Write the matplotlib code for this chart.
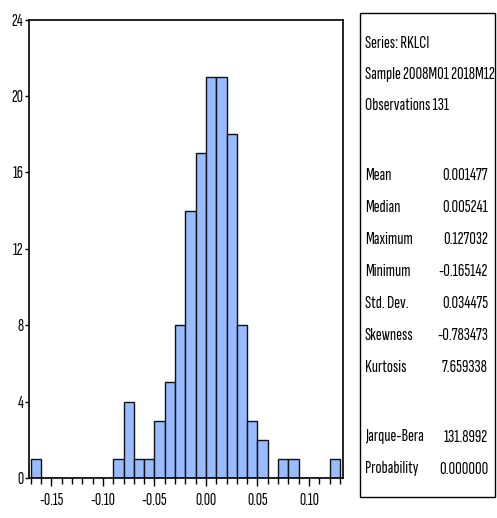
import numpy as np
import matplotlib
matplotlib.use("Agg")
import matplotlib.pyplot as plt
from matplotlib.patches import Rectangle

plt.rcParams['font.family'] = ['Sofia Sans Extra Condensed', 'DejaVu Sans']

# histogram of RKLCI, bins of width 0.01 from -0.17 to 0.13
bin_edges = np.round(np.arange(-0.17, 0.1301, 0.01), 2)
counts = [1, 0, 0, 0, 0, 0, 0, 0, 1, 4, 1, 1, 3, 5, 8, 14, 17, 21, 21, 18,
          8, 3, 2, 0, 1, 1, 0, 0, 0, 1]

xticks = [-0.15, -0.10, -0.05, 0.00, 0.05, 0.10]
yticks = [0, 4, 8, 12, 16, 20, 24]

header = ["Series: RKLCI", "Sample 2008M01 2018M12", "Observations 131"]
stat_names = ["Mean", "Median", "Maximum", "Minimum", "Std. Dev.", "Skewness", "Kurtosis"]
stat_values = ["0.001477", "0.005241", "0.127032", "-0.165142", "0.034475", "-0.783473", "7.659338"]
test_names = ["Jarque-Bera", "Probability"]
test_values = ["131.8992", "0.000000"]

W, H = 497, 518
fig = plt.figure(figsize=(W / 100, H / 100), dpi=100)

# main histogram axes (pixel layout)
l, r, t, b = 29, 343, 19.5, 478
ax = fig.add_axes([l / W, 1 - b / H, (r - l) / W, (b - t) / H])
ax.bar(bin_edges[:-1], counts, width=0.01, align='edge', color='#99bbff',
       edgecolor='#111111', linewidth=1.0)
ax.set_xlim(-0.1718, 0.133)
ax.set_ylim(0, 24)
ax.set_xticks(xticks)
ax.set_xticklabels(["%.2f" % v for v in xticks])
ax.set_xticks(bin_edges, minor=True)
ax.set_yticks(yticks)
ax.tick_params(axis='x', which='major', direction='out', length=6, width=1, labelsize=12.5, pad=5)
ax.tick_params(axis='x', which='minor', direction='out', length=4, width=1)
ax.tick_params(axis='y', direction='out', length=3, width=1, labelsize=12.5, pad=1)
for s in ax.spines.values():
    s.set_linewidth(1.2)

# statistics box
bx0, bx1, by0, by1 = 360, 495, 13, 497
fig.patches.append(Rectangle((bx0 / W, 1 - by1 / H), (bx1 - bx0) / W, (by1 - by0) / H,
                             transform=fig.transFigure, fill=False, edgecolor='black',
                             linewidth=1.0))

fs = 13
tx = 365 / W
vx = 488 / W
for i, s in enumerate(header):
    y = [44, 75, 106][i]
    fig.text(tx, 1 - y / H, s, fontsize=fs, va='center', ha='left')
stat_y = [175, 208, 240, 271, 303, 336, 368]
for name, val, y in zip(stat_names, stat_values, stat_y):
    fig.text(tx, 1 - y / H, name, fontsize=fs, va='center', ha='left')
    fig.text(vx, 1 - y / H, val, fontsize=fs, va='center', ha='right')
for name, val, y in zip(test_names, test_values, [437, 469]):
    fig.text(tx, 1 - y / H, name, fontsize=fs, va='center', ha='left')
    fig.text(vx, 1 - y / H, val, fontsize=fs, va='center', ha='right')

fig.savefig("out.png", dpi=100)
